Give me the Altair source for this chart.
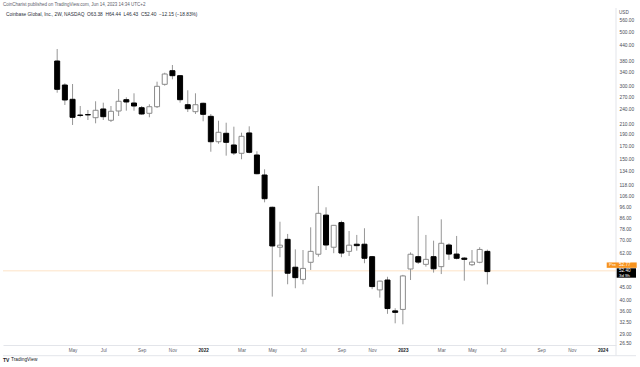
import altair as alt
import pandas as pd

# ---- data (2-week candles) ----
dates = [
    "2021-04-12", "2021-04-26", "2021-05-10", "2021-05-24", "2021-06-07", "2021-06-21",
    "2021-07-05", "2021-07-19", "2021-08-02", "2021-08-16", "2021-08-30", "2021-09-13",
    "2021-09-27", "2021-10-11", "2021-10-25", "2021-11-08", "2021-11-22", "2021-12-06",
    "2021-12-20", "2022-01-03", "2022-01-17", "2022-01-31", "2022-02-14", "2022-02-28",
    "2022-03-14", "2022-03-28", "2022-04-11", "2022-04-25", "2022-05-09", "2022-05-23",
    "2022-06-06", "2022-06-20", "2022-07-04", "2022-07-18", "2022-08-01", "2022-08-15",
    "2022-08-29", "2022-09-12", "2022-09-26", "2022-10-10", "2022-10-24", "2022-11-07",
    "2022-11-21", "2022-12-05", "2022-12-19", "2023-01-02", "2023-01-16", "2023-01-30",
    "2023-02-13", "2023-02-27", "2023-03-13", "2023-03-27", "2023-04-10", "2023-04-24",
    "2023-05-08", "2023-05-22", "2023-06-05",
]
opens = [
    380.6, 303.6, 265.4, 228.8, 229.8, 223.2, 242.3, 217.8, 237.7, 264.4,
    256.3, 245.2, 232.6, 247.5, 305.6, 347.4, 331.5, 252.2, 236.2, 255.6,
    226.1, 178.0, 192.7, 172.6, 159.6, 193.3, 157.1, 130.1, 96.0, 65.9,
    71.0, 54.6, 48.7, 57.2, 61.7, 89.2, 65.9, 83.1, 63.4, 67.8,
    67.8, 60.3, 44.1, 48.4, 36.2, 36.7, 53.7, 60.3, 56.1, 60.3,
    54.9, 67.3, 61.8, 59.5, 55.9, 57.2, 63.38,
]
highs = [
    426.2, 308.6, 306.5, 249.2, 240.0, 260.5, 257.1, 249.2, 292.4, 270.4,
    280.8, 249.2, 253.2, 313.3, 340.9, 366.6, 332.7, 288.9, 280.8, 257.1,
    231.1, 216.9, 212.9, 205.1, 193.8, 205.8, 162.7, 137.3, 96.6, 83.8,
    74.7, 64.6, 64.2, 79.5, 117.3, 96.0, 81.3, 84.6, 76.8, 74.0,
    78.8, 60.7, 48.1, 49.9, 37.1, 50.8, 62.8, 88.4, 74.0, 70.1,
    85.7, 68.4, 73.3, 60.0, 64.2, 65.9, 64.44,
]
lows = [
    282.4, 251.6, 208.4, 224.0, 218.4, 211.7, 218.4, 214.3, 226.8, 238.4,
    238.4, 229.5, 224.0, 244.5, 301.7, 320.4, 257.1, 235.5, 231.1, 215.8,
    162.0, 174.7, 156.1, 157.1, 150.9, 159.6, 131.0, 100.6, 41.4, 60.0,
    46.5, 44.8, 46.5, 53.2, 60.3, 64.2, 62.3, 60.0, 60.7, 63.8,
    56.7, 44.4, 41.0, 35.2, 32.2, 31.9, 48.4, 56.3, 54.9, 51.9,
    51.2, 58.5, 58.8, 48.1, 55.2, 56.7, 46.43,
]
closes = [
    291.6, 263.7, 224.0, 228.0, 229.2, 239.3, 225.3, 237.1, 260.5, 258.8,
    249.2, 231.1, 247.5, 299.9, 336.8, 331.5, 264.4, 242.9, 252.2, 230.4,
    178.0, 194.5, 177.0, 160.1, 187.3, 161.1, 131.7, 104.1, 66.7, 67.2,
    51.6, 49.5, 54.0, 63.4, 90.7, 67.3, 81.0, 62.4, 67.2, 66.9,
    59.4, 45.5, 47.9, 37.0, 35.7, 50.3, 61.7, 57.3, 58.8, 53.8,
    68.4, 61.8, 59.4, 58.8, 57.3, 64.55, 52.40,
]

price_ticks = [560, 500, 440, 380, 340, 300, 270, 240, 210, 190, 170, 150, 134,
               118, 106, 96, 86, 78, 70, 62, 45, 40, 36, 32.5, 29, 26.5]
time_ticks = ["2021-05-10", "2021-07-05", "2021-09-13", "2021-11-08", "2022-01-03",
              "2022-03-14", "2022-05-09", "2022-07-04", "2022-09-12", "2022-11-07",
              "2023-01-02", "2023-03-13", "2023-05-08", "2023-07-03", "2023-09-11",
              "2023-11-06", "2024-01-01"]
pre_price = [52.77]
last_price = [52.40]
SP = "\u00a0\u00a0"
header_1 = "CoinCharist published on TradingView.com, Jun 14, 2023 14:34 UTC+2"
header_2 = ("Coinbase Global, Inc., 2W, NASDAQ" + SP + "O63.38" + SP + "H64.44" + SP
            + "L46.43" + SP + "C52.40" + SP + "\u221212.15 (\u221218.83%)")

df = pd.DataFrame({"date": dates, "open": opens, "high": highs, "low": lows, "close": closes})

FONT = "Liberation Sans"
W, H = 613, 337


def dt(s, h=0, m=0):
    y, mo, d = (int(v) for v in s.split("-"))
    return alt.DateTime(year=y, month=mo, date=d, hours=h, minutes=m, utc=True)


xscale = alt.Scale(type="utc", domain=[dt("2021-01-12", 8, 36), dt("2024-01-16", 8, 0)])
yscale = alt.Scale(type="log", domain=[26.25, 627.0], nice=False, zero=False)

xaxis = alt.Axis(
    title=None, values=[dt(s) for s in time_ticks],
    labelExpr="utcmonth(datum.value) == 0 ? utcFormat(datum.value, '%Y') : utcFormat(datum.value, '%b')",
    labelFontWeight={"condition": {"test": "utcmonth(datum.value) == 0", "value": "bold"}, "value": "normal"},
    labelColor={"condition": {"test": "utcmonth(datum.value) == 0", "value": "#131722"}, "value": "#5d606b"},
    labelFont=FONT, labelFontSize=4.6, labelBaseline="middle", labelPadding=5.7,
    ticks=False, tickSize=0, grid=False, domain=True, domainColor="#e3e5ea", domainWidth=1,
    labelOverlap=False,
)
yaxis = alt.Axis(
    title=None, orient="right", values=price_ticks, format=".2f",
    labelFont=FONT, labelFontSize=4.8, labelColor="#4a4d57", labelAlign="left",
    labelBaseline="middle", labelPadding=3, ticks=False, tickSize=0, grid=False,
    domain=False, labelOverlap=False,
)

base = alt.Chart(df).encode(x=alt.X("date:T", scale=xscale, axis=xaxis))

wicks = base.mark_rule(color="#969696", strokeWidth=1).encode(
    y=alt.Y("low:Q", scale=yscale, axis=yaxis),
    y2="high:Q",
)
bodies = base.mark_bar(size=5, strokeWidth=1).encode(
    y=alt.Y("open:Q", scale=yscale),
    y2="close:Q",
    fill=alt.condition("datum.open > datum.close", alt.value("#000000"), alt.value("#ffffff")),
    stroke=alt.condition("datum.open > datum.close", alt.value("#000000"), alt.value("#8a8a8a")),
)

pre_df = pd.DataFrame({"p": pre_price, "t": ["52.77"]})
last_df = pd.DataFrame({"p": last_price, "t": ["52.40"]})

pre_line = alt.Chart(pre_df).mark_rule(color="#fcdcb8", strokeWidth=0.8).encode(
    y=alt.Y("p:Q", scale=yscale), x=alt.value(0), x2=alt.value(W))
pre_box = alt.Chart(pre_df).mark_rect(color="#f7931e", yOffset=-8.4, y2Offset=-3.0).encode(
    y=alt.Y("p:Q", scale=yscale), y2="p:Q", x=alt.value(603.7), x2=alt.value(633.7))
pre_tag = alt.Chart(pre_df).mark_text(text="Pre", font=FONT, fontSize=4.4, color="#ffffff",
                                      align="left", baseline="middle", dy=-5.8).encode(
    y=alt.Y("p:Q", scale=yscale), x=alt.value(606))
pre_val = alt.Chart(pre_df).mark_text(font=FONT, fontSize=4.6, color="#ffffff",
                                      align="left", baseline="middle", dy=-5.8).encode(
    y=alt.Y("p:Q", scale=yscale), x=alt.value(616), text="t:N")

last_box = alt.Chart(last_df).mark_rect(color="#000000", yOffset=-3.3, y2Offset=6.1).encode(
    y=alt.Y("p:Q", scale=yscale), y2="p:Q", x=alt.value(613.7), x2=alt.value(633))
last_val = alt.Chart(last_df).mark_text(font=FONT, fontSize=4.6, color="#ffffff",
                                        align="left", baseline="middle", dy=-0.9).encode(
    y=alt.Y("p:Q", scale=yscale), x=alt.value(616), text="t:N")
last_cd = alt.Chart(last_df).mark_text(text="3d 9h", font=FONT, fontSize=4.4, color="#ffffff",
                                       align="left", baseline="middle", dy=4.1).encode(
    y=alt.Y("p:Q", scale=yscale), x=alt.value(616))

usd = alt.Chart(pd.DataFrame({"t": ["USD"]})).mark_text(
    font=FONT, fontSize=4.6, color="#4a4d57", align="left", baseline="middle").encode(
    x=alt.value(616), y=alt.value(4.7), text="t:N")

hdr1 = alt.Chart(pd.DataFrame({"t": [header_1]})).mark_text(
    font=FONT, fontSize=4.5, color="#5d606b", align="left", baseline="middle").encode(
    x=alt.value(0), y=alt.value(-3), text="t:N")
hdr2 = alt.Chart(pd.DataFrame({"t": [header_2]})).mark_text(
    font=FONT, fontSize=4.8, color="#2a2e39", align="left", baseline="middle").encode(
    x=alt.value(3), y=alt.value(6.7), text="t:N")

logo_mark = alt.Chart(pd.DataFrame({"t": ["TV"]})).mark_text(
    font=FONT, fontSize=5, fontWeight="bold", color="#131722", align="left", baseline="middle").encode(
    x=alt.value(0), y=alt.value(352), text="t:N")
logo_text = alt.Chart(pd.DataFrame({"t": ["TradingView"]})).mark_text(
    font=FONT, fontSize=4.8, color="#131722", align="left", baseline="middle").encode(
    x=alt.value(8), y=alt.value(352), text="t:N")

vline = alt.Chart(pd.DataFrame({"a": [0]})).mark_rule(color="#e3e5ea", strokeWidth=1).encode(
    x=alt.value(W), y=alt.value(0), y2=alt.value(347.7))
hline = alt.Chart(pd.DataFrame({"a": [0]})).mark_rule(color="#e3e5ea", strokeWidth=1).encode(
    x=alt.value(0), x2=alt.value(633), y=alt.value(347.7))

chart = alt.layer(
    vline, hline, pre_line, wicks, bodies,
    pre_box, pre_tag, pre_val, last_box, last_val, last_cd,
    usd, hdr1, hdr2, logo_mark, logo_text,
).properties(
    width=W, height=H,
    autosize=alt.AutoSizeParams(type="none"),
    padding={"left": 3, "top": 8, "right": 24, "bottom": 22},
    background="#ffffff",
).configure_view(stroke=None)

chart.save("out.html", embed_options={"renderer": "svg", "actions": False})
